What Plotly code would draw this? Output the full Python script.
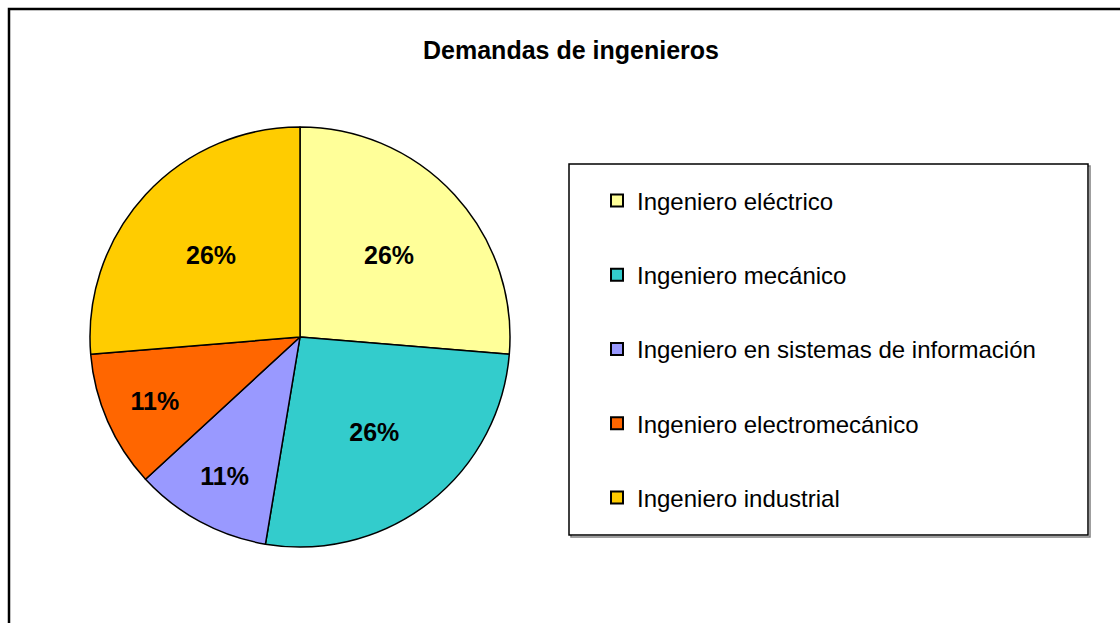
import plotly.graph_objects as go

title = "Demandas de ingenieros"
categories = [
    "Ingeniero eléctrico",
    "Ingeniero mecánico",
    "Ingeniero en sistemas de información",
    "Ingeniero electromecánico",
    "Ingeniero industrial",
]
values = [5, 5, 2, 2, 5]
colors = ["#FFFF99", "#33CCCC", "#9999FF", "#FF6600", "#FFCC00"]

W, H = 1120, 623
FONT = "Liberation Sans, Arial, sans-serif"

def px(x):
    return x / W

def py(y):
    return 1 - y / H

fig = go.Figure()
fig.add_trace(go.Pie(
    labels=categories,
    values=values,
    sort=False,
    direction="clockwise",
    rotation=0,
    marker=dict(colors=colors, line=dict(color="black", width=1.5)),
    texttemplate="%{percent:.0%}",
    textposition="inside",
    insidetextorientation="horizontal",
    textfont=dict(family=FONT, size=25, color="black", weight="bold"),
    domain=dict(x=[px(90), px(510)], y=[py(547), py(127)]),
    showlegend=False,
    hoverinfo="label+percent",
))

# legend entries (one per category)
for name, col in zip(categories, colors):
    fig.add_trace(go.Scatter(
        x=[None], y=[None], mode="markers", name=name, legendgroup=name,
        marker=dict(symbol="square", size=11, color=col, line=dict(color="black", width=1.2)),
        showlegend=True, hoverinfo="skip",
    ))

fig.update_layout(
    width=W, height=H,
    margin=dict(l=0, r=0, t=0, b=0),
    paper_bgcolor="white", plot_bgcolor="white",
    font=dict(family=FONT, color="black"),
    title=dict(text="<b>" + title + "</b>", x=571 / W, xanchor="center", y=py(50), yanchor="middle",
               font=dict(family=FONT, size=25, color="black")),
    xaxis=dict(visible=False), yaxis=dict(visible=False),
    legend=dict(
        x=px(597), y=py(178.5), xanchor="left", yanchor="top",
        font=dict(family=FONT, size=24, color="black"),
        tracegroupgap=40, itemsizing="constant",
        bgcolor="rgba(0,0,0,0)", borderwidth=0,
    ),
    shapes=[
        # outer chart frame
        dict(type="rect", xref="paper", yref="paper", x0=px(9), y0=-0.05, x1=1.05, y1=py(9),
             line=dict(color="black", width=2.5), layer="above"),
        # legend shadow
        dict(type="rect", xref="paper", yref="paper", x0=px(571), y0=py(537), x1=px(1090), y1=py(166),
             line=dict(color="#808080", width=1.5), layer="below"),
        # legend box
        dict(type="rect", xref="paper", yref="paper", x0=px(569), y0=py(535), x1=px(1088), y1=py(164),
             line=dict(color="black", width=1.5), fillcolor="white", layer="below"),
    ],
)

fig.write_html("out.html", config={"displayModeBar": False},
               post_script="document.body.style.margin='0px';")
